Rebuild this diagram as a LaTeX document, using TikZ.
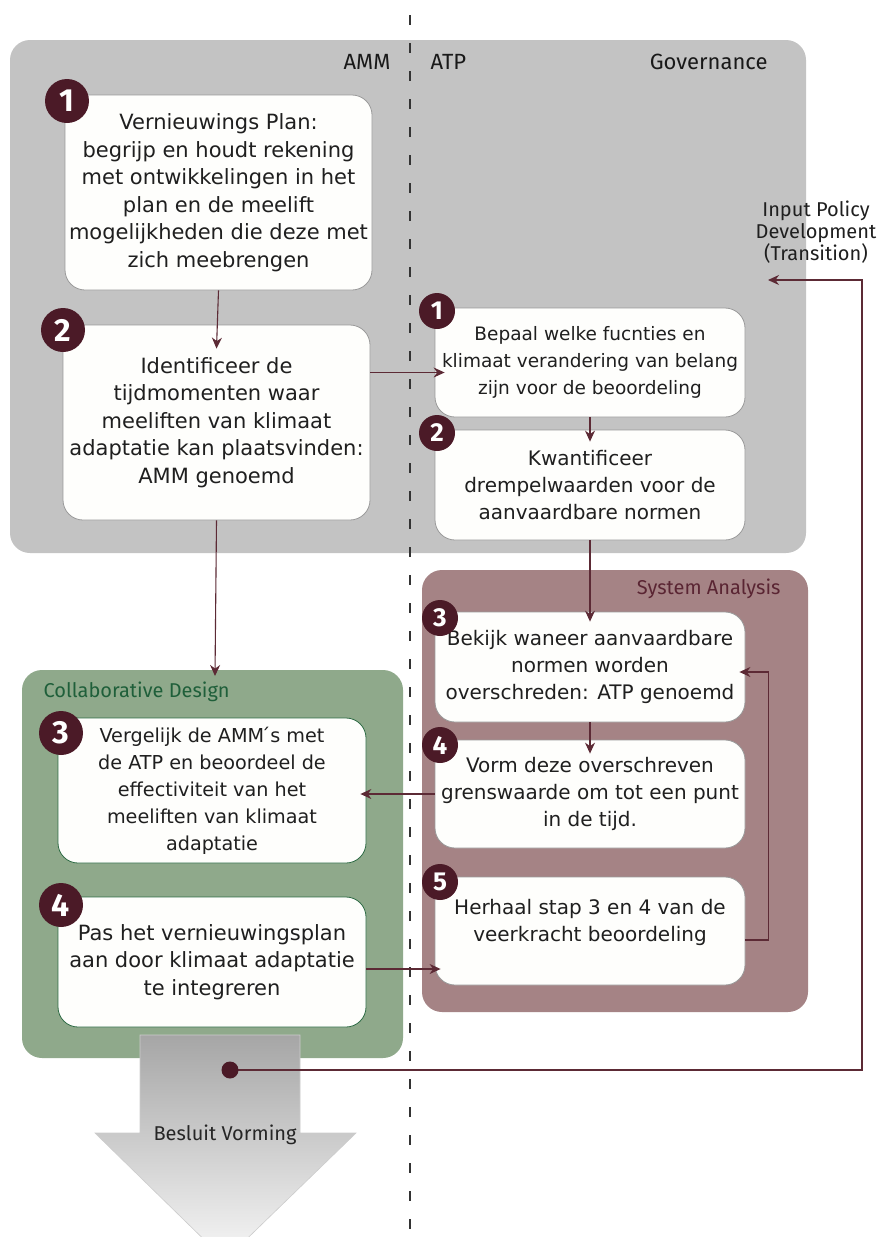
\documentclass[tikz,border=0pt]{standalone}
\usepackage{fontspec}
\setmainfont{DejaVu Sans}
\newfontfamily\labfont{Fira Sans}
\usetikzlibrary{arrows.meta}
\definecolor{govgray}{HTML}{C3C3C3}
\definecolor{maroon}{HTML}{4B1A27}
\definecolor{lineclr}{HTML}{5C2A35}
\definecolor{sysfill}{HTML}{A58385}
\definecolor{sysText}{HTML}{5A2533}
\definecolor{greenfill}{HTML}{8FA98B}
\definecolor{greentext}{HTML}{1F5F3A}
\definecolor{greenborder}{HTML}{2E6B45}
\definecolor{boxborder}{HTML}{9A9A9A}
\definecolor{boxfill}{HTML}{FEFEFC}
\tikzset{
  panel/.style={rounded corners=20pt, draw=none},
  stepbox/.style={draw=boxborder, line width=0.8pt, fill=boxfill, rounded corners=20pt,
     align=center, inner sep=3pt, font=\fontsize{20}{27}\selectfont, text=black!88},
  bigtext/.style={font=\fontsize{21}{27.5}\selectfont},
  smalltext/.style={font=\fontsize{19.2}{27}\selectfont},
  tinytext/.style={font=\fontsize{18.5}{27}\selectfont},
  bigbadge/.style={circle, fill=maroon, text=white, minimum size=44pt, inner sep=0pt,
     font=\labfont\fontsize{32}{32}\selectfont\bfseries},
  smallbadge/.style={circle, fill=maroon, text=white, minimum size=36pt, inner sep=0pt,
     font=\labfont\fontsize{26}{26}\selectfont\bfseries},
  arr/.style={draw=lineclr, line width=1.1pt, -{Stealth[length=11pt,width=10pt]}},
  hdr/.style={font=\labfont\fontsize{22}{24}\selectfont, text=black!90},
}
\begin{document}
\begin{tikzpicture}[x=1pt,y=-1pt]
\useasboundingbox (0,0) rectangle (883,1237);
\fill[white] (0,0) rectangle (883,1237);

% Governance panel
\fill[govgray, panel] (10,40) rectangle (806,553);
% System analysis panel
\fill[sysfill, panel] (422,570) rectangle (808,1012);
% Collaborative design panel
\fill[greenfill, panel] (22,670) rectangle (403,1058);

% dashed separator
\draw[black!80, line width=1.4pt, dash pattern=on 10pt off 18pt] (410,15) -- (410,1237);

% headers
\node[hdr, anchor=east] (amm) at (394,62) {AMM};
\node[hdr, anchor=west] (atp) at (427,62) {ATP};
\node[hdr, anchor=east] (gov) at (771,62) {Governance};
\node[font=\labfont\fontsize{20}{24}\selectfont, text=sysText, anchor=east] (sys) at (784,589) {System Analysis};
\node[font=\labfont\fontsize{20}{24}\selectfont, text=greentext, anchor=west] (cd) at (40,692) {Collaborative Design};
\coordinate (cdtop) at (215,670);

% big decision arrow
\shade[top color=black!35, bottom color=black!3, draw=black!20, line width=0.6pt]
  (140,1035) -- (300,1035) -- (300,1133) -- (356,1133) -- (225,1260) -- (95,1133) -- (140,1133) -- cycle;
\node[font=\labfont\fontsize{20}{24}\selectfont, text=black!85] (besluit) at (225,1135) {Besluit Vorming};

% left column (AMM)
\node[stepbox, bigtext, minimum width=307pt, minimum height=195pt] (A1) at (218.5,192.5)
  {Vernieuwings Plan:\\begrijp en houdt rekening\\met ontwikkelingen in het\\plan en de meelift\\mogelijkheden die deze met\\zich meebrengen};
\node[stepbox, bigtext, minimum width=307pt, minimum height=195pt] (A2) at (216.5,422.5)
  {Identificeer de\\tijdmomenten waar\\meeliften van klimaat\\adaptatie kan plaatsvinden:\\AMM genoemd};
\node[bigbadge] (bA1) at (67,101) {1};
\node[bigbadge] (bA2) at (63,330) {2};

% right column (ATP)
\node[stepbox, tinytext, minimum width=310pt, minimum height=109pt] (B1) at (590,362.5)
  {Bepaal welke fucnties en\\klimaat verandering van belang\\zijn voor de beoordeling};
\node[stepbox, minimum width=310pt, minimum height=110pt] (B2) at (590,485)
  {Kwantificeer\\drempelwaarden voor de\\aanvaardbare normen};
\node[smallbadge] (bB1) at (437,311) {1};
\node[smallbadge] (bB2) at (437,433) {2};

\node[stepbox, minimum width=310pt, minimum height=110pt] (C3) at (590,667)
  {Bekijk waneer aanvaardbare\\normen worden\\overschreden: ATP genoemd};
\node[stepbox, minimum width=310pt, minimum height=108pt] (C4) at (590,794)
  {Vorm deze overschreven\\grenswaarde om tot een punt\\in de tijd.};
\node[stepbox, minimum width=310pt, minimum height=108pt, text depth=22pt] (C5) at (590,931)
  {Herhaal stap 3 en 4 van de\\veerkracht beoordeling};
\node[smallbadge] (bC3) at (440,618) {3};
\node[smallbadge] (bC4) at (440,745) {4};
\node[smallbadge] (bC5) at (440,882) {5};

% collaborative design steps
\node[stepbox, smalltext, draw=greenborder, minimum width=308pt, minimum height=145pt] (D3) at (212,790.5)
  {Vergelijk de AMM\'{}s met\\de ATP en beoordeel de\\effectiviteit van het\\meeliften van klimaat\\adaptatie};
\node[stepbox, bigtext, draw=greenborder, minimum width=308pt, minimum height=130pt] (D4) at (212,962)
  {Pas het vernieuwingsplan\\aan door klimaat adaptatie\\te integreren};
\node[bigbadge] (bD3) at (61,733) {3};
\node[bigbadge] (bD4) at (61,905) {4};

% input policy label
\node[align=center, font=\labfont\fontsize{20}{22}\selectfont, text=black!88] (inp) at (816,232)
  {Input Policy\\Development\\(Transition)};
\coordinate (inpTip) at (768,280);

% connectors
\draw[arr] (A1.south) -- ([yshift=-24pt]A2.north);
\draw[arr] ([yshift=50pt]A2.east) -- ([xshift=10pt,yshift=50pt]A2.east -| B1.west);
\draw[arr] (A2.south) -- ([yshift=-6pt]cdtop);
\draw[arr] (B1.south) -- ([yshift=-12pt]B2.north);
\draw[arr] (B2.south) -- ([yshift=-10pt]C3.north);
\draw[arr] (C3.south) -- ([yshift=-14pt]C4.north);
\draw[arr] (C4.west) -- ([xshift=-6pt]C4.west -| D3.east);
\draw[arr] ([yshift=-7pt]D4.east) -- ([xshift=6pt,yshift=-7pt]D4.east -| C5.west);
\draw[arr] ([yshift=-9pt]C5.east) -- ++(23,0) |- ([xshift=-6pt,yshift=-5pt]C3.east);
\draw[arr] (230,1070) -- (862,1070) -- (862,280) -- (inpTip);
\node[circle, fill=maroon, minimum size=17pt, inner sep=0pt] (dot) at (230,1070) {};
\end{tikzpicture}
\end{document}
